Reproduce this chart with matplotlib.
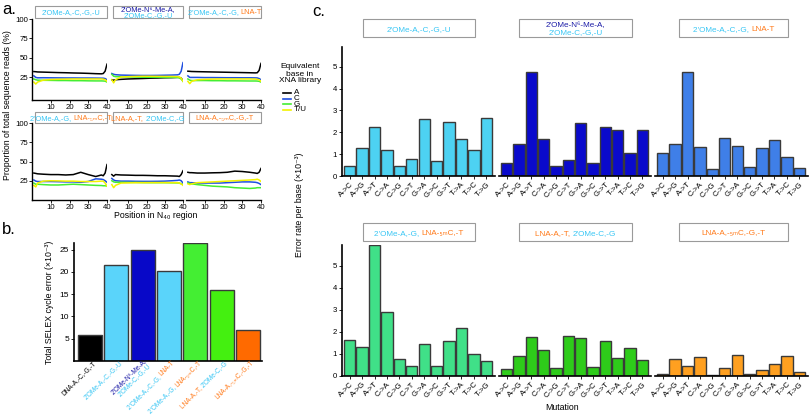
import numpy as np
import matplotlib
matplotlib.use('Agg')
import matplotlib.pyplot as plt
from matplotlib.transforms import IdentityTransform
from matplotlib.patches import Rectangle
from matplotlib.lines import Line2D

plt.rcParams['font.family'] = ['Liberation Sans', 'DejaVu Sans']

# colours used in the labels
LB = '#38c6f4'
DB = '#1a1aa6'
OR = '#ff7a1a'

# ---- panel a data: % reads per base along the N40 region ----
pos = [1, 2, 3, 6, 10, 14, 18, 22, 26, 30, 34, 37, 38, 39, 40]
bases = ['A', 'C', 'G', 'T/U']
base_colors = ['#000000', '#1f4fe0', '#44ee33', '#f2f200']

a_ome = [[32.5, 32.3, 32, 31.8, 31.5, 31.2, 31, 30.7, 30.5, 30.2, 29.8, 29.6, 30, 33, 42],
         [27, 25, 24.5, 24.6, 24.5, 24.4, 24.3, 24.3, 24.2, 24.2, 24.1, 24, 24, 23.5, 22],
         [23, 22, 21.5, 21.3, 21.2, 21, 21, 20.8, 20.8, 20.6, 20.5, 20.5, 20.4, 20.2, 19],
         [19, 16.5, 19, 21.5, 22.3, 22.6, 22.8, 23, 23, 23, 23, 23, 22.8, 22, 20]]
a_n6 = [[22, 21.5, 22, 22.5, 23, 23.3, 23.6, 24, 24.2, 24.5, 24.7, 25, 25, 24, 21],
        [30, 29, 28.5, 28, 27.8, 27.6, 27.5, 27.5, 27.6, 27.8, 28, 28.3, 29, 33, 44],
        [29, 26.5, 26, 25.8, 25.6, 25.5, 25.3, 25.2, 25.2, 25, 25, 25, 24.5, 23, 20],
        [22, 18, 22, 25.5, 26, 26.3, 26.5, 26.5, 26.4, 26.3, 26.2, 26, 25.5, 24, 20]]
a_lnat = [[33, 32.8, 32.6, 32.4, 32.2, 32, 31.8, 31.6, 31.4, 31.2, 31, 30.8, 31, 34, 43],
          [27, 25, 25, 25, 24.8, 24.8, 24.7, 24.6, 24.6, 24.5, 24.5, 24.4, 24.3, 23.5, 22],
          [23, 21.5, 21, 21, 21, 20.8, 20.8, 20.6, 20.6, 20.5, 20.4, 20.4, 20.3, 20, 19],
          [20, 17, 20, 22, 22.5, 22.8, 23, 23, 23, 23, 23, 22.8, 22.5, 22, 20]]
a_ag = [[35, 34.5, 34, 33.5, 33, 33, 32.5, 33, 36, 33, 30.5, 32.5, 31.5, 35, 46],
        [26, 24.5, 24, 24, 24, 23.8, 23.5, 23.5, 23, 24, 27.5, 27, 26.5, 25, 23],
        [22, 20.5, 20.5, 20, 19.5, 19.5, 20, 20.5, 20, 19.5, 19, 18.8, 18.5, 18.5, 18],
        [19, 17, 22, 24.5, 25, 24.8, 24.5, 24.5, 24, 24, 24, 24.5, 24.5, 22, 18]]
a_at = [[33, 31, 33, 32.5, 32.3, 32, 32, 31.8, 31.5, 31.5, 31.2, 31, 30.5, 33, 38],
        [28, 26, 25, 24.5, 24.5, 24.3, 24.2, 24.2, 24.3, 24.5, 25, 25.5, 26, 25, 22],
        [25, 23.5, 23, 23, 22.8, 22.8, 22.6, 22.5, 22.5, 22.5, 22.3, 22.2, 22, 21, 20],
        [20, 16, 19, 22, 22.3, 22.5, 22.5, 22.6, 22.6, 22.6, 22.5, 22.5, 22, 21, 19]]
a_lna = [[36, 35.5, 35.5, 35, 35, 35.3, 35.5, 36, 37.5, 37, 36, 35, 34.5, 36, 41],
         [23.5, 22.5, 22.5, 22, 22, 22, 22, 22.5, 23, 23.5, 23.5, 23, 22.5, 21.5, 20],
         [22, 21.5, 21, 20, 19, 18, 17.5, 17, 16, 15.5, 15, 15.5, 16, 16, 16],
         [21, 20, 21, 22.5, 23, 23.5, 24, 24.5, 25, 25.5, 26, 26.5, 27, 26, 24]]

# ---- panel b data: total SELEX cycle error (x10^-3) ----
b_values = [5.8, 21.6, 25.0, 20.1, 26.5, 15.9, 7.0]
b_colors = ['#000000', '#5ad4fa', '#0808c8', '#5ad4fa', '#44ee33', '#44f010', '#ff6a00']

# ---- panel c data: error rate per base (x10^-3) ----
mutations = ['A->C', 'A->G', 'A->T', 'C->A', 'C->G', 'C->T',
             'G->A', 'G->C', 'G->T', 'T->A', 'T->C', 'T->G']
c_ome = [0.47, 1.3, 2.26, 1.17, 0.47, 0.8, 2.62, 0.67, 2.48, 1.71, 1.2, 2.63]
c_n6 = [0.59, 1.48, 4.74, 1.67, 0.47, 0.74, 2.42, 0.59, 2.23, 2.12, 1.06, 2.09]
c_lnat = [1.03, 1.48, 4.77, 1.33, 0.32, 1.76, 1.39, 0.41, 1.27, 1.65, 0.86, 0.35]
c_ag = [1.62, 1.33, 5.94, 2.92, 0.79, 0.47, 1.45, 0.47, 1.6, 2.17, 0.98, 0.7]
c_at = [0.33, 0.91, 1.76, 1.18, 0.38, 1.82, 1.71, 0.42, 1.59, 0.82, 1.29, 0.71]
c_lna = [0.08, 0.77, 0.47, 0.85, 0.06, 0.35, 0.95, 0.09, 0.29, 0.56, 0.91, 0.18]
c_colors = ['#4dd2f2', '#0a0acc', '#3f7fe8', '#40e088', '#2ecc1a', '#ffa020']

# library names as coloured pieces
lib_ome = [[("2'OMe-A,-C,-G,-U", LB)]]
lib_n6 = [[("2'OMe-N\u2076-Me-A,", DB)], [("2'OMe-C,-G,-U", LB)]]
lib_lnat = [[("2'OMe-A,-C,-G, ", LB), ("LNA-T", OR)]]
lib_ag = [[("2'OMe-A,-G, ", LB), ("LNA-\u2085\u2098C,-T", OR)]]
lib_at = [[("LNA-A,-T, ", OR), ("2'OMe-C,-G", LB)]]
lib_lna = [[("LNA-A,-\u2085\u2098C,-G,-T", OR)]]
lib_dna = [[("DNA-A,-C,-G,-T", '#000000')]]

W, H = 810, 416
fig = plt.figure(figsize=(W / 100, H / 100), dpi=100)
renderer = fig.canvas.get_renderer()
ID = IdentityTransform()


def add_ax(x0, y0, x1, y1):
    # image pixel box (top-left origin) -> axes
    return fig.add_axes([x0 / W, 1 - y1 / H, (x1 - x0) / W, (y1 - y0) / H])


def tw(s, size):
    t = fig.text(0, 0, s + 'x', fontsize=size, transform=ID)
    w = t.get_window_extent(renderer).width
    t.set_text('x')
    w -= t.get_window_extent(renderer).width
    t.remove()
    return w


def segs_text(x, y, segs, size, align='center', rot=0):
    # x, y: baseline anchor in image pixels
    th = np.radians(rot)
    dx, dy = np.cos(th), np.sin(th)
    total = tw(''.join(s for s, c in segs), size)
    off = {'center': -total / 2, 'right': -total, 'left': 0}[align]
    for s, c in segs:
        fig.text(x + off * dx, H - y + off * dy, s, color=c, fontsize=size,
                 rotation=rot, rotation_mode='anchor', ha='left', va='baseline',
                 transform=ID)
        off += tw(s, size)


def header_box(x0, y0, x1, y1, lines, size, lw=0.8):
    fig.add_artist(Rectangle((x0, H - y1), x1 - x0, y1 - y0, transform=ID,
                             facecolor='white', edgecolor='#9a9a9a', lw=lw))
    n = len(lines)
    lh = size * 1.25
    cy = (y0 + y1) / 2
    for i, ln in enumerate(lines):
        yb = cy + (i - (n - 1) / 2) * lh + size * 0.45
        segs_text((x0 + x1) / 2, yb, ln, size)


# ---------------- panel a ----------------
a_sets = [[a_ome, a_n6, a_lnat], [a_ag, a_at, a_lna]]
a_libs = [[lib_ome, lib_n6, lib_lnat], [lib_ag, lib_at, lib_lna]]
a_xr = [(32, 107), (110, 183), (186, 261)]
a_rows = [(19, 100, -4, 6, 17.5), (123, 200, 0, 112, 123)]
for r, (y0, y1, ylo, hy0, hy1) in enumerate(a_rows):
    for j in range(3):
        ax = add_ax(a_xr[j][0], y0, a_xr[j][1], y1)
        for k in range(4):
            ax.plot(pos, a_sets[r][j][k], color=base_colors[k], lw=1.1)
        ax.set_xlim(0, 40)
        ax.set_ylim(ylo, 100)
        ax.set_xticks([10, 20, 30, 40])
        ax.tick_params(labelsize=5.6, length=2, width=0.6, pad=1)
        for s in ['top', 'right']:
            ax.spines[s].set_visible(False)
        ax.spines['bottom'].set_linewidth(1)
        if j == 0:
            ax.set_yticks([25, 50, 75, 100])
            ax.spines['left'].set_linewidth(1)
        else:
            ax.set_yticks([])
            ax.spines['left'].set_visible(False)
        ax.patch.set_alpha(0)
        header_box(a_xr[j][0] + 3, hy0, a_xr[j][1], hy1, a_libs[r][j], 5.3)

fig.text(8, H - 105, 'Proportion of total sequence reads (%)', rotation=90,
         fontsize=6.3, ha='center', va='center', transform=ID)
fig.text(156, H - 215.5, 'Position in N\u2084\u2080 region', fontsize=6.3,
         ha='center', va='center', transform=ID)

# legend
for i, t in enumerate(['Equivalent', 'base in', 'XNA library']):
    fig.text(300, H - (67 + i * 7), t, fontsize=6, ha='center', va='center', transform=ID)
for k, b in enumerate(bases):
    yy = H - (93 + k * 5.6)
    fig.add_artist(Line2D([283, 291], [yy, yy], color=base_colors[k], lw=1.2, transform=ID))
    fig.text(294, yy, b, fontsize=5.8, ha='left', va='center', transform=ID)

# ---------------- panel b ----------------
axb = add_ax(74, 243, 262, 361)
xb = np.arange(len(b_values))
axb.bar(xb, b_values, width=0.91, color=b_colors, edgecolor='#3a3a3a', lw=1)
axb.set_xlim(-0.61, 6.53)
axb.set_ylim(0, 26.5)
axb.set_yticks([5, 10, 15, 20, 25])
axb.set_xticks([])
axb.tick_params(labelsize=6, length=2, width=0.6, pad=1.5)
for s in ['top', 'right']:
    axb.spines[s].set_visible(False)
axb.spines['left'].set_linewidth(1.2)
axb.spines['bottom'].set_linewidth(1.2)
axb.set_ylabel('Total SELEX cycle error (\u00d710\u207b\u00b3)', fontsize=6.3, labelpad=4)

b_libs = [lib_dna, lib_ome, lib_n6, lib_lnat, lib_ag, lib_at, lib_lna]
for i, lib in enumerate(b_libs):
    cx, _ = axb.transData.transform((xb[i], 0))
    ex, ey = cx + 6, H - 363
    n = len(lib)
    for li, ln in enumerate(lib):
        sh = (li - (n - 1) / 2) * 6.8
        px_, py_ = ex + sh * 0.707, ey - sh * 0.707
        segs_text(px_, H - py_, ln, 4.7, align='right', rot=45)

# ---------------- panel c ----------------
c_sets = [[c_ome, c_n6, c_lnat], [c_ag, c_at, c_lna]]
c_libs = [[lib_ome, lib_n6, lib_lnat], [lib_ag, lib_at, lib_lna]]
c_xr = [(342, 495), (499, 651), (655, 808)]
c_rows = [(47, 176, 5.9, 19, 37), (245, 376, 5.95, 223, 241)]
c_box = [(363, 475), (519, 632), (679, 788)]
xc = np.arange(len(mutations))
for r, (y0, y1, ytop, hy0, hy1) in enumerate(c_rows):
    for j in range(3):
        ax = add_ax(c_xr[j][0], y0, c_xr[j][1], y1)
        ax.bar(xc, c_sets[r][j], width=0.91, color=c_colors[r * 3 + j],
               edgecolor='#3a3a3a', lw=1)
        ax.set_xlim(-0.62, 11.7)
        ax.set_ylim(0, ytop)
        ax.set_xticks(xc)
        ax.set_xticklabels(mutations, rotation=45, ha='right', rotation_mode='anchor')
        ax.tick_params(labelsize=5.6, length=2, width=0.6, pad=1.5)
        for s in ['top', 'right']:
            ax.spines[s].set_visible(False)
        ax.spines['bottom'].set_linewidth(1.2)
        if j == 0:
            ax.set_yticks([0, 1, 2, 3, 4, 5])
            ax.spines['left'].set_linewidth(1.2)
        else:
            ax.set_yticks([])
            ax.spines['left'].set_visible(False)
        ax.patch.set_alpha(0)
        header_box(c_box[j][0], hy0, c_box[j][1], hy1, c_libs[r][j], 5.9)

fig.text(299, H - 205, 'Error rate per base (\u00d710\u207b\u00b3)', rotation=90,
         fontsize=6.3, ha='center', va='center', transform=ID)
fig.text(562, H - 408, 'Mutation', fontsize=6.3, ha='center', va='center', transform=ID)

# panel letters
fig.text(2, H - 9, 'a.', fontsize=12, ha='left', va='center', transform=ID)
fig.text(2, H - 229, 'b.', fontsize=12, ha='left', va='center', transform=ID)
fig.text(312, H - 12, 'c.', fontsize=12, ha='left', va='center', transform=ID)

fig.savefig('out.png', dpi=100)
